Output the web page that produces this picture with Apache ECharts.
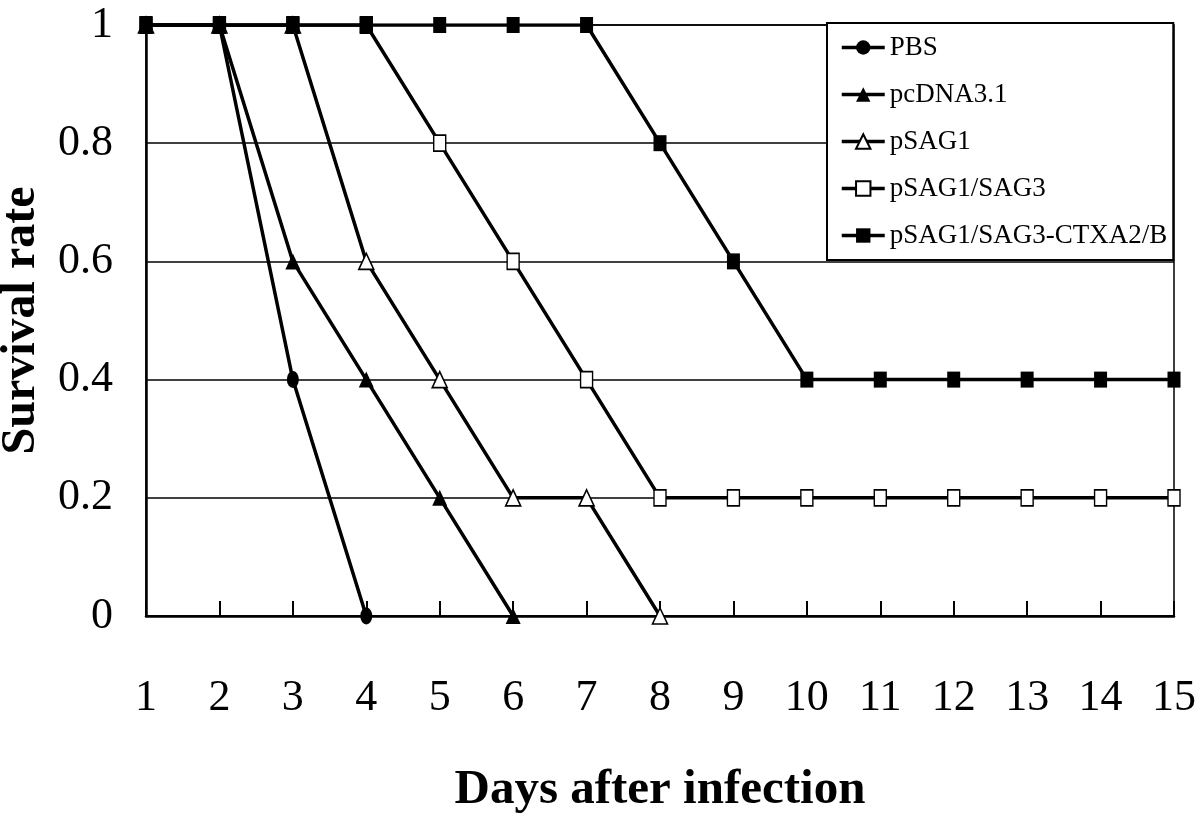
<!DOCTYPE html>
<html>
<head>
<meta charset="utf-8">
<script src="https://cdn.jsdelivr.net/npm/echarts@6/dist/echarts.min.js"></script>
<style>html,body{margin:0;padding:0;background:#fff}#c{width:1200px;height:835px}</style>
</head>
<body>
<div id="c"></div>
<script>
var days = ['1','2','3','4','5','6','7','8','9','10','11','12','13','14','15'];
var yTicks = [0, 0.2, 0.4, 0.6, 0.8, 1];
var seriesNames = ['PBS', 'pcDNA3.1', 'pSAG1', 'pSAG1/SAG3', 'pSAG1/SAG3-CTXA2/B'];
var pbs = [1, 1, 0.4, 0, null, null, null, null, null, null, null, null, null, null, null];
var pcdna = [1, 1, 0.6, 0.4, 0.2, 0, null, null, null, null, null, null, null, null, null];
var psag1 = [1, 1, 1, 0.6, 0.4, 0.2, 0.2, 0, null, null, null, null, null, null, null];
var psag13 = [1, 1, 1, 1, 0.8, 0.6, 0.4, 0.2, 0.2, 0.2, 0.2, 0.2, 0.2, 0.2, 0.2];
var psagCtx = [1, 1, 1, 1, 1, 1, 1, 0.8, 0.6, 0.4, 0.4, 0.4, 0.4, 0.4, 0.4];

var FONT = "'Liberation Serif', 'Times New Roman', serif";
var chart = echarts.init(document.getElementById('c'), null, {renderer: 'canvas'});

function mk(name, data, symbol, size, filled) {
  return {
    name: name, type: 'line', data: data, symbol: symbol, symbolSize: size,
    showSymbol: true, connectNulls: false, animation: false,
    lineStyle: {color: '#000', width: 3.5},
    itemStyle: {color: filled ? '#000' : '#fff', borderColor: '#000', borderWidth: filled ? 0 : 1.6, opacity: 1}
  };
}

chart.setOption({
  backgroundColor: '#fff',
  animation: false,
  grid: {left: 146, right: 26, top: 25, bottom: 219, show: true, borderColor: '#000', borderWidth: 1.5,
    containLabel: false, outerBoundsMode: 'none'},
  legend: {
    orient: 'vertical', left: 827, top: 23,
    padding: [11, 6, 11, 13],
    itemGap: 20, itemWidth: 43, itemHeight: 18,
    backgroundColor: '#fff', borderColor: '#000', borderWidth: 2, borderRadius: 0,
    lineStyle: {width: 3.5, color: '#000'},
    textStyle: {fontFamily: FONT, fontSize: 27, color: '#000', padding: [0, 0, 0, 0]},
    data: seriesNames
  },
  xAxis: {
    type: 'category', data: days, boundaryGap: false,
    name: 'Days after infection', nameLocation: 'middle', nameGap: 150, nameMoveOverlap: false,
    nameTextStyle: {fontFamily: FONT, fontSize: 49, fontWeight: 'bold', color: '#000'},
    axisLine: {show: true, lineStyle: {color: '#000', width: 2.5}},
    axisTick: {show: true, inside: true, length: 15, alignWithLabel: true, lineStyle: {color: '#000', width: 2}},
    axisLabel: {fontFamily: FONT, fontSize: 44, color: '#000', margin: 60, interval: 0},
    splitLine: {show: false}
  },
  yAxis: {
    type: 'value', min: 0, max: 1, interval: 0.2,
    name: 'Survival rate', nameLocation: 'middle', nameGap: 100, nameMoveOverlap: false,
    nameTextStyle: {fontFamily: FONT, fontSize: 48, fontWeight: 'bold', color: '#000'},
    axisLine: {show: true, lineStyle: {color: '#000', width: 2.5}},
    axisTick: {show: false},
    axisLabel: {fontFamily: FONT, fontSize: 44, color: '#000', margin: 33,
      formatter: function (v) { return String(parseFloat(v.toFixed(1))); }},
    splitLine: {show: true, lineStyle: {color: '#000', width: 1.5}}
  },
  series: [
    mk(seriesNames[0], pbs, 'circle', [12, 17], true),
    mk(seriesNames[1], pcdna, 'triangle', [15, 16], true),
    mk(seriesNames[2], psag1, 'triangle', [15, 16], false),
    mk(seriesNames[3], psag13, 'rect', [12, 16], false),
    mk(seriesNames[4], psagCtx, 'rect', [13, 16], true)
  ]
});
</script>
</body>
</html>
